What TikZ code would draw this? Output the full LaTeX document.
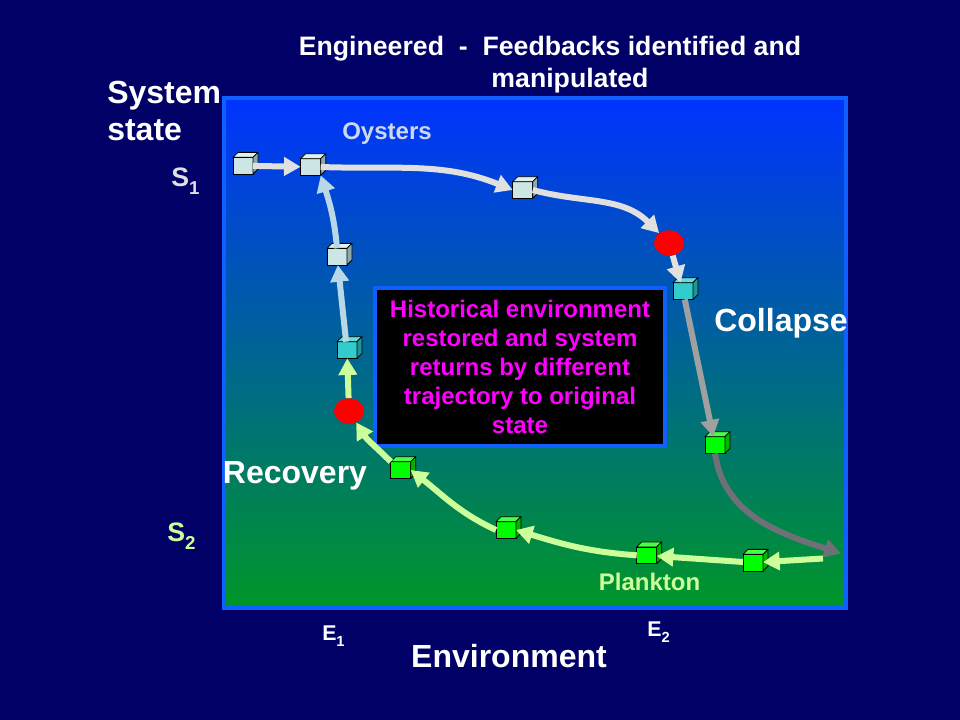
\documentclass[tikz,border=0pt]{standalone}
\usepackage{fontspec}
\setmainfont{Liberation Sans}
\usepackage{tikz}
\usetikzlibrary{positioning}
\usetikzlibrary{shapes.geometric, arrows.meta}

\definecolor{navy}{RGB}{0,0,102}
\definecolor{frameblue}{RGB}{16,96,255}
\definecolor{topblue}{RGB}{0,51,255}
\definecolor{bottomgreen}{RGB}{0,150,40}
\definecolor{notepink}{RGB}{255,0,255}
\definecolor{oysterline}{RGB}{224,224,224}
\definecolor{oysterlabel}{RGB}{204,216,240}
\definecolor{returnblue}{RGB}{184,216,232}
\definecolor{planktonline}{RGB}{204,255,153}
\definecolor{fallgrey}{RGB}{160,160,160}
\definecolor{deepgrey}{RGB}{112,112,120}
\definecolor{paleface}{RGB}{204,230,230}
\definecolor{paletop}{RGB}{222,240,240}
\definecolor{paleside}{RGB}{140,170,170}
\definecolor{cyanface}{RGB}{51,204,204}
\definecolor{cyantop}{RGB}{96,222,222}
\definecolor{cyanside}{RGB}{30,150,150}
\definecolor{greenface}{RGB}{0,255,0}
\definecolor{greentop}{RGB}{70,255,70}
\definecolor{greenside}{RGB}{0,180,0}

\tikzstyle{cube} = [rectangle, draw=black, line width=0.6pt, minimum width=15pt, minimum height=12.5pt, inner sep=0pt, outer sep=0pt]
\tikzstyle{face} = [draw=black, line width=0.6pt, line join=round]
\tikzstyle{tipping} = [ellipse, fill=red, minimum width=22.5pt, minimum height=19pt, inner sep=0pt]
\tikzstyle{arrow} = [line width=4.5pt, -{Triangle[length=12.5pt,width=13.5pt]}]
\tikzstyle{bigtext} = [text=white, font=\fontsize{24}{27.5}\selectfont\bfseries, inner sep=0pt]
\tikzstyle{smalltext} = [font=\fontsize{18}{21}\selectfont\bfseries, inner sep=0pt]
\tikzstyle{notebox} = [rectangle, fill=black, draw=frameblue, line width=3pt, minimum width=217.5pt, minimum height=119pt, text=notepink, align=center, font=\fontsize{18}{21.75}\selectfont\bfseries]

% name, position, front, top, side
\newcommand{\drawcube}[5]{%
  \node (#1) [cube, fill=#3] at (#2) {};
  \filldraw [face, fill=#4] (#1.north west) -- ++(3.75pt,3.75pt) -- ([shift={(3.75pt,3.75pt)}]#1.north east) -- (#1.north east) -- cycle;
  \filldraw [face, fill=#5] (#1.north east) -- ++(3.75pt,3.75pt) -- ([shift={(3.75pt,3.75pt)}]#1.south east) -- (#1.south east) -- cycle;
}
\newcommand{\lowsub}[3]{\raisebox{-#1}{\fontsize{#2}{#2}\selectfont #3}}

\begin{document}
\begin{tikzpicture}[x=0.75pt, y=-0.75pt]
        \useasboundingbox (0,0) rectangle (960,720);
        \fill [navy] (0,0) rectangle (960,720);
        \shade [top color=topblue, bottom color=bottomgreen] (224,98) rectangle (846,608);
        \draw [frameblue, line width=3.5pt] (224,98) rectangle (846,608);

        \node (title) [smalltext, text=white, align=center, font=\fontsize{20}{24}\selectfont\bfseries, anchor=north] at (570,36) {Engineered\ \ -\ \ Feedbacks identified and\hspace*{30pt}\\manipulated};
        \node (sysstate) [bigtext, align=left, anchor=north west] at (107,81) {System\\state};
        \node (s1) [bigtext, text=oysterline, font=\fontsize{20}{24}\selectfont\bfseries, anchor=base west] at (171,186.5) {S\lowsub{6pt}{14}{1}};
        \node (s2) [bigtext, text=planktonline, font=\fontsize{20}{24}\selectfont\bfseries, anchor=base west] at (167,541.5) {S\lowsub{6pt}{14}{2}};
        \node (e1) [bigtext, font=\fontsize{16}{19}\selectfont\bfseries, anchor=base west] at (322,640) {E\lowsub{4.5pt}{11}{1}};
        \node (e2) [bigtext, font=\fontsize{16}{19}\selectfont\bfseries, anchor=base west] at (647,636.5) {E\lowsub{4.5pt}{11}{2}};
        \node (env) [bigtext, anchor=base] at (509,667) {Environment};
        \node (oysters) [smalltext, text=oysterlabel, anchor=base] at (387,139.3) {Oysters};
        \node (plankton) [smalltext, text=planktonline, anchor=base] at (649.5,590.7) {Plankton};
        \node (collapse) [bigtext, anchor=base] at (781,331) {Collapse};
        \node (recovery) [bigtext, anchor=base] at (295,483) {Recovery};
        \node (note) [notebox] at (520,367) {Historical environment\\restored and system\\returns by different\\trajectory to original\\state};

        \drawcube{c1}{243,165.7}{paleface}{paletop}{paleside}
        \drawcube{c2}{310.7,167}{paleface}{paletop}{paleside}
        \drawcube{c3}{522.7,190}{paleface}{paletop}{paleside}
        \drawcube{c4}{683,291}{cyanface}{cyantop}{cyanside}
        \drawcube{c5}{347,350}{cyanface}{cyantop}{cyanside}
        \drawcube{c6}{337,256.7}{paleface}{paletop}{paleside}
        \drawcube{g1}{715,445}{greenface}{greentop}{greenside}
        \drawcube{g2}{753,562.7}{greenface}{greentop}{greenside}
        \drawcube{g3}{646.7,555.3}{greenface}{greentop}{greenside}
        \drawcube{g4}{506,530}{greenface}{greentop}{greenside}
        \drawcube{g5}{400.7,470}{greenface}{greentop}{greenside}
        \node (r1) [tipping] at (669,243) {};
        \node (r2) [tipping] at (349,411) {};
        \coordinate (collend) at (841,553.5);
        \coordinate (plankstart) at (823,558.5);

        % oyster state and collapse
        \draw [arrow, oysterline] (c1) -- (c2);
        \draw [arrow, oysterline] (c2.east) to[out=-2, in=158] (c3.west);
        \draw [arrow, oysterline] (c3.east) to[out=-15, in=135] (r1);
        \draw [arrow, oysterline] (r1) -- (c4);
        \draw [arrow, fallgrey] (c4) -- (g1);
        \draw [arrow, deepgrey] (g1.south) to[out=-82, in=162] (collend);
        % recovery
        \draw [arrow, planktonline] (plankstart) -- (g2);
        \draw [arrow, planktonline] (g2) -- (g3);
        \draw [arrow, planktonline] (g3.west) to[out=176, in=-17] (g4.east);
        \draw [arrow, planktonline] (g4.west) to[out=155, in=-38] (g5.east);
        \draw [arrow, planktonline] (g5.north west) to[out=135, in=-58] (r2);
        \draw [arrow, planktonline] (r2) -- (c5);
        \draw [arrow, returnblue] (c5) -- (c6);
        \draw [arrow, returnblue] (c6.north) to[out=95, in=-72] (c2.south east);

\end{tikzpicture}
\end{document}
